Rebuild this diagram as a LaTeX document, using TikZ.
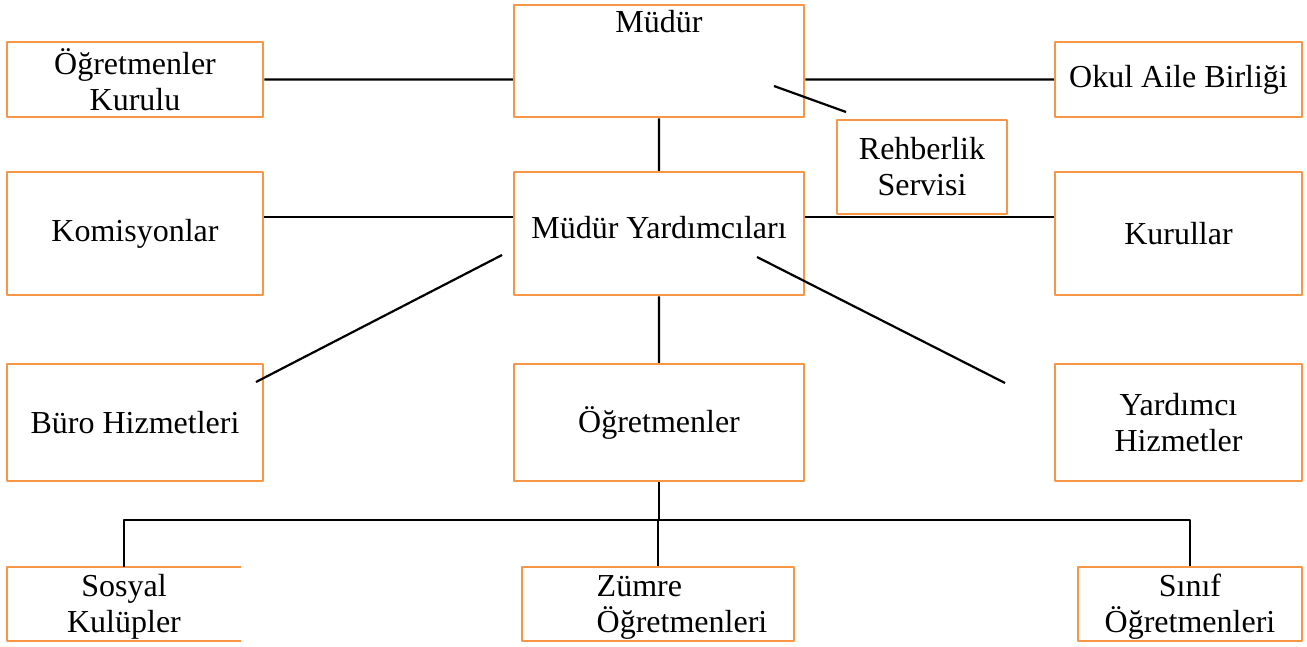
\documentclass[tikz,border=0pt]{standalone}
\usepackage{fontspec}
\setmainfont{Liberation Serif}
\definecolor{turuncu}{HTML}{F79646}
\tikzset{
	kutu/.style={draw=turuncu,line width=2.5pt,inner sep=0pt,align=center},
	hat/.style={line width=2.2pt}
}
\begin{document}
\begin{tikzpicture}[x=1pt,y=-1pt,line join=round,font=\fontsize{32}{36}\selectfont]
	\useasboundingbox (0,0) rectangle (1307,646);
	% ust sira
	\node[kutu,minimum width=290,minimum height=112,label={[anchor=north,inner sep=0pt,yshift=-6]north:Müdür}] (mudur) at (659,61) {};
	\node[kutu,minimum width=256,minimum height=75] (ogkurulu) at (135,79.5) {Öğretmenler\\Kurulu};
	\node[kutu,minimum width=247,minimum height=75] (okulaile) at (1178.5,79.5) {Okul Aile Birliği};
	\node[kutu,minimum width=170,minimum height=94] (rehberlik) at (922,167) {Rehberlik\\Servisi};
	% orta sira
	\node[kutu,minimum width=256,minimum height=123] (komisyon) at (135,233.5) {Komisyonlar};
	\node[kutu,minimum width=290,minimum height=123,label={[yshift=6]center:Müdür Yardımcıları}] (mudyrd) at (659,233.5) {};
	\node[kutu,minimum width=247,minimum height=123] (kurullar) at (1178.5,233.5) {Kurullar};
	\node[kutu,minimum width=256,minimum height=117] (buro) at (135,422.5) {Büro Hizmetleri};
	\node[kutu,minimum width=290,minimum height=117] (ogretmenler) at (659,422.5) {Öğretmenler};
	\node[kutu,minimum width=247,minimum height=117] (yardimci) at (1178.5,422.5) {Yardımcı\\Hizmetler};
	% alt sira
	\node[minimum width=234,minimum height=74,inner sep=0pt,align=center,yshift=-3] (sosyal) at (124,604) {Sosyal\\Kulüpler};
	\draw[draw=turuncu,line width=2.5pt] ([yshift=3]sosyal.north east)--([yshift=3]sosyal.north west)--([yshift=3]sosyal.south west)--([yshift=3]sosyal.south east);
	\node[kutu,minimum width=272,minimum height=74,label={[align=left,xshift=24,yshift=-3]center:Zümre\\Öğretmenleri}] (zumre) at (658,604) {};
	\node[kutu,minimum width=224,minimum height=74,label={[align=center,yshift=-3]center:Sınıf\\Öğretmenleri}] (sinif) at (1190,604) {};
	\path
	(774,86) coordinate (R1)
	(846,112) coordinate (R2)
	(502,255) coordinate (B1)
	(256,382) coordinate (B2)
	(757,257) coordinate (Y1)
	(1005,383) coordinate (Y2)
	;
	% baglantilar
	\draw[hat] (ogkurulu.east)--(ogkurulu.east-|mudur.west) (okulaile.west-|mudur.east)--(okulaile.west) (mudur.south)--(mudyrd.north) (R1)--(R2);
	\draw[hat] ([yshift=16.5]komisyon.east)--([yshift=16.5]mudyrd.west) ([yshift=16.5]mudyrd.east)--([yshift=16.5]kurullar.west);
	\draw[hat] (B1)--(B2) (Y1)--(Y2) (mudyrd.south)--(ogretmenler.north);
	\draw[hat] (ogretmenler.south)--++(0,38) coordinate (bus);
	\draw[hat] ([yshift=3]sosyal.north)|-(bus)-|(sinif.north) (zumre.north)--(zumre.north|-bus);
\end{tikzpicture}
\end{document}
